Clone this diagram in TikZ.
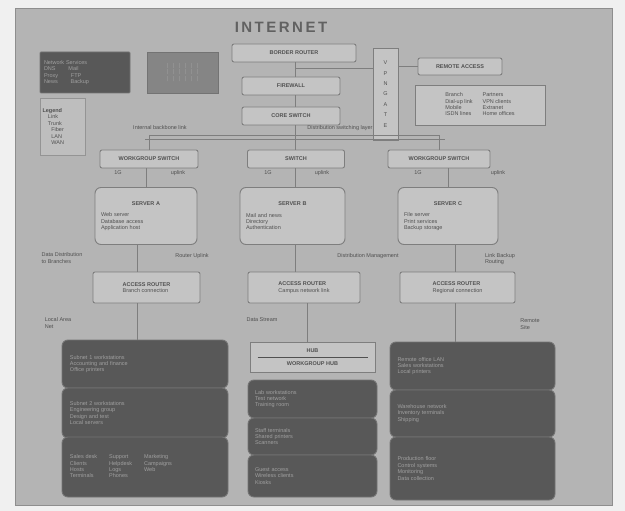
\documentclass[tikz,border=0pt]{standalone}
\usepackage{fontspec}
\setmainfont{Liberation Sans}
\definecolor{pagebg}{HTML}{B4B4B4}
\definecolor{boxbg}{HTML}{C4C4C4}
\definecolor{boxln}{HTML}{7E7E7E}
\definecolor{darkbg}{HTML}{585858}
\definecolor{darkln}{HTML}{737373}
\definecolor{txt}{HTML}{505050}
\definecolor{ltxt}{HTML}{A0A0A0}
\begin{document}
\begin{tikzpicture}[x=1pt,y=-1pt,
  every node/.style={font=\fontsize{5.5}{6.4}\selectfont, text=txt, inner sep=1pt},
  lbox/.style={draw=boxln, fill=boxbg, line width=0.9pt, rounded corners=2pt, align=center},
  sbox/.style={draw=boxln, fill=boxbg, line width=0.9pt, rounded corners=6pt, align=left},
  dbox/.style={draw=darkln, fill=darkbg, line width=0.9pt, rounded corners=6pt, align=left, text=ltxt},
  link/.style={draw=boxln, line width=0.9pt},
  lab/.style={align=left, text=txt}]
\useasboundingbox (0,0) rectangle (625,511);
\fill[white!94!black] (0,0) rectangle (625,511);
\fill[pagebg] (15,8) rectangle (612,505);
\draw[boxln!70!pagebg, line width=0.6pt] (15,8) rectangle (612,505);

% title
\node[font=\fontsize{15}{15}\bfseries\selectfont, text=black!62] (title) at (281,27) {I\,N\,T\,E\,R\,N\,E\,T};

% top left
\node[dbox, rounded corners=1pt, minimum width=90pt, minimum height=41pt, text width=82pt] (dl1) at (85,72.5)
  {Network Services\\DNS \quad\quad Mail\\Proxy \quad\quad FTP\\News \quad\quad Backup};
\node[draw=darkln, fill=black!48, minimum width=71pt, minimum height=41pt, text=ltxt, align=center] (dl2) at (182.5,72.5)
  {| \; | \; | \; | \; | \; |\\| \; | \; | \; | \; | \; |\\| \; | \; | \; | \; | \; |};
\node[draw=boxln!60!pagebg, fill=boxbg!60!pagebg, minimum width=45pt, minimum height=57pt, text width=40pt, align=left] (lst) at (62.5,126.5)
  {\textbf{Legend}\\ \quad Link\\ \quad Trunk\\ \quad\; Fiber\\ \quad\; LAN\\ \quad\; WAN};

% centre spine
\node[lbox, minimum width=124pt, minimum height=18pt] (c1) at (294,53) {\textbf{BORDER ROUTER}};
\node[lbox, minimum width=98pt, minimum height=18pt] (c2) at (291,86) {\textbf{FIREWALL}};
\node[lbox, minimum width=98pt, minimum height=18pt] (c3) at (291,116) {\textbf{CORE SWITCH}};

% right top
\node[draw=boxln, fill=boxbg, line width=0.9pt, minimum width=25pt, minimum height=92pt, align=center] (vt) at (385.5,94)
  {V\\[4pt]P\\[4pt]N\\[4pt]G\\[4pt]A\\[4pt]T\\[4pt]E};
\node[lbox, minimum width=84pt, minimum height=17pt] (r1) at (460,66.5) {\textbf{REMOTE ACCESS}};
\node[draw=boxln, fill=boxbg, line width=0.9pt, minimum width=130pt, minimum height=40pt, align=left] (r2) at (480,105)
  {\begin{tabular}{@{}l@{\hspace{10pt}}l@{}}Branch & Partners\\Dial-up link & VPN clients\\Mobile & Extranet\\ISDN lines & Home offices\end{tabular}};

\coordinate (sp) at (295,0);
\draw[link] (c1.south -| sp) -- (c2.north -| sp);
\draw[link] (c2.south -| sp) -- (c3.north -| sp);
\coordinate (cj) at (295,68);
\draw[link] (cj) -- (cj -| vt.west);
\draw[link] (vt.east |- r1) -- (r1.west);

% bus
\coordinate (bus) at (295,135);
\coordinate (busl) at (149,135);
\coordinate (busr) at (439,135);
\draw[link] (c3.south -| sp) -- (bus);
\draw[link] (busl) -- (busr);
\draw[link, line width=0.5pt] (145,139) -- (445,139);
\node[lab] (bl1) at (160,128) {Internal backbone link};
\node[lab] (bl2) at (340,128) {Distribution switching layer};

\node[lbox, minimum width=98pt, minimum height=18pt] (m1) at (149,159) {\textbf{WORKGROUP SWITCH}};
\node[lbox, minimum width=97pt, minimum height=18pt] (m2) at (296,159) {\textbf{SWITCH}};
\node[lbox, minimum width=102pt, minimum height=18pt] (m3) at (439,159) {\textbf{WORKGROUP SWITCH}};
\draw[link] (busl) -- (m1);
\draw[link] (bus) -- (m2.north -| sp);
\draw[link] (busr) -- (m3);

\node[lab] at (118,173) {1G};
\node[lab] at (178,173) {uplink};
\node[lab] at (268,173) {1G};
\node[lab] at (322,173) {uplink};
\node[lab] at (418,173) {1G};
\node[lab] at (498,173) {uplink};

\node[sbox, minimum width=102pt, minimum height=57pt, text width=90pt] (s1) at (146,216)
  {\centering\textbf{SERVER A}\par\vspace{5pt}\raggedright Web server\\Database access\\Application host};
\node[sbox, minimum width=105pt, minimum height=57pt, text width=93pt] (s2) at (292.5,216)
  {\centering\textbf{SERVER B}\par\vspace{5pt}\raggedright Mail and news\\Directory\\Authentication};
\node[sbox, minimum width=100pt, minimum height=57pt, text width=88pt] (s3) at (448,216)
  {\centering\textbf{SERVER C}\par\vspace{5pt}\raggedright File server\\Print services\\Backup storage};
\draw[link] (m1.south -| s1) -- (s1);
\draw[link] (m2.south -| sp) -- (s2.north -| sp);
\draw[link] (m3.south -| s3) -- (s3);

\node[lab] at (62,258) {Data Distribution\\to Branches};
\node[lab] at (192,256) {Router Uplink};
\node[lab] at (368,256) {Distribution Management};
\node[lab] at (500,259) {Link Backup\\Routing};

\node[lbox, minimum width=107pt, minimum height=31pt, align=left] (t1) at (146.5,287.5) {\textbf{ACCESS ROUTER}\\Branch connection};
\node[lbox, minimum width=112pt, minimum height=31pt, align=left] (t2) at (304,287.5) {\textbf{ACCESS ROUTER}\\Campus network link};
\node[lbox, minimum width=115pt, minimum height=31pt, align=left] (t3) at (457.5,287.5) {\textbf{ACCESS ROUTER}\\Regional connection};
\draw[link] (s1.south -| 137,0) -- (t1.north -| 137,0);
\draw[link] (s2.south -| sp) -- (t2.north -| sp);
\draw[link] (s3.south -| 455,0) -- (t3.north -| 455,0);

\node[lab] at (58,323) {Local Area\\Net};
\node[lab] at (262,320) {Data Stream};
\node[lab] at (530,324) {Remote\\Site};

% bottom left stack
\node[dbox, minimum width=166pt, minimum height=48pt, text width=150pt] (b1a) at (145,364)
  {Subnet 1 workstations\\Accounting and finance\\Office printers};
\node[dbox, minimum width=166pt, minimum height=50pt, text width=150pt] (b1b) at (145,413)
  {Subnet 2 workstations\\Engineering group\\Design and test\\Local servers};
\node[dbox, minimum width=166pt, minimum height=60pt, text width=150pt] (b1c) at (145,467)
  {\begin{tabular}{@{}l@{\hspace{12pt}}l@{\hspace{12pt}}l@{}}Sales desk & Support & Marketing\\Clients & Helpdesk & Campaigns\\Hosts & Logs & Web\\Terminals & Phones & \end{tabular}};
\draw[link] (t1.south -| 137,0) -- (b1a.north -| 137,0);

% bottom centre
\node[draw=boxln, fill=boxbg, line width=0.9pt, minimum width=125pt, minimum height=30pt, align=center] (hc) at (312.5,357)
  {\textbf{HUB}\\[-1pt]\rule{110pt}{0.5pt}\\[1pt]\textbf{WORKGROUP HUB}};
\draw[link] (t2.south -| 307,0) -- (hc.north -| 307,0);
\node[dbox, minimum width=129pt, minimum height=38pt, text width=115pt] (b2a) at (312.5,399)
  {Lab workstations\\Test network\\Training room};
\node[dbox, minimum width=129pt, minimum height=37pt, text width=115pt] (b2b) at (312.5,436.5)
  {Staff terminals\\Shared printers\\Scanners};
\node[dbox, minimum width=129pt, minimum height=42pt, text width=115pt] (b2c) at (312.5,476)
  {Guest access\\Wireless clients\\Kiosks};

% bottom right stack
\node[dbox, minimum width=165pt, minimum height=48pt, text width=150pt] (b3a) at (472.5,366)
  {Remote office LAN\\Sales workstations\\Local printers};
\node[dbox, minimum width=165pt, minimum height=47pt, text width=150pt] (b3b) at (472.5,413.5)
  {Warehouse network\\Inventory terminals\\Shipping};
\node[dbox, minimum width=165pt, minimum height=63pt, text width=150pt] (b3c) at (472.5,468.5)
  {Production floor\\Control systems\\Monitoring\\Data collection};
\draw[link] (t3.south -| 455,0) -- (b3a.north -| 455,0);
\end{tikzpicture}
\end{document}
